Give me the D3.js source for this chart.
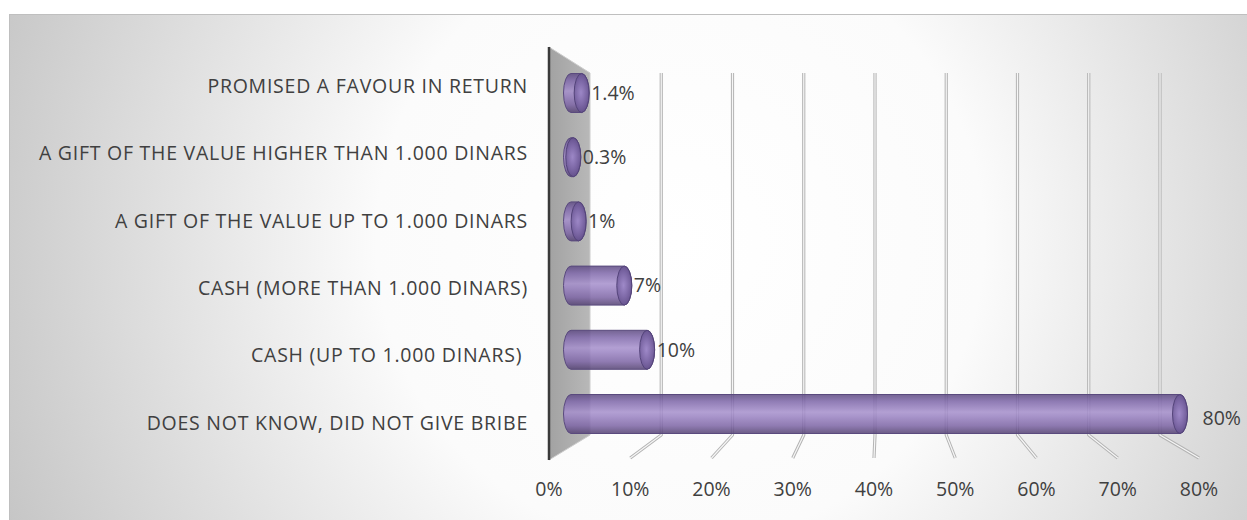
<!DOCTYPE html>
<html>
<head>
<meta charset="utf-8">
<script src="https://cdn.jsdelivr.net/npm/d3@7"></script>
<style>
  body { margin: 0; background: #fff; }
  text { font-family: "Open Sans", Lato, sans-serif; fill: #404040; }
</style>
</head>
<body>
<div id="chart"></div>
<script>
// categories top to bottom, as in the picture
const categories = [
    'PROMISED A FAVOUR IN RETURN',
    'A GIFT OF THE VALUE HIGHER THAN 1.000 DINARS',
    'A GIFT OF THE VALUE UP TO 1.000 DINARS',
    'CASH (MORE THAN 1.000 DINARS)',
    'CASH (UP TO 1.000 DINARS)\u00a0',
    'DOES NOT KNOW, DID NOT GIVE BRIBE'
];
const values = [0.014, 0.003, 0.01, 0.07, 0.10, 0.80];
const valueLabels = ['1.4%', '0.3%', '1%', '7%', '10%', '80%'];
const ticks = [0, 0.1, 0.2, 0.3, 0.4, 0.5, 0.6, 0.7, 0.8];

const width = 1247, height = 520;
const fontSize = 19.5;

const svg = d3.select('#chart').append('svg')
    .attr('width', width)
    .attr('height', height);

const defs = svg.append('defs');

// chart area background
const bg = defs.append('radialGradient')
    .attr('id', 'bg')
    .attr('gradientUnits', 'userSpaceOnUse')
    .attr('cx', 680).attr('cy', 240).attr('r', 760);
bg.append('stop').attr('offset', 0).attr('stop-color', '#ffffff');
bg.append('stop').attr('offset', 0.4).attr('stop-color', '#fbfbfb');
bg.append('stop').attr('offset', 1).attr('stop-color', '#c2c2c2');

const wallGrad = defs.append('linearGradient')
    .attr('id', 'wall').attr('x1', 0).attr('x2', 1).attr('y1', 0).attr('y2', 0);
wallGrad.append('stop').attr('offset', 0).attr('stop-color', '#a2a2a2');
wallGrad.append('stop').attr('offset', 1).attr('stop-color', '#b8b8b8');

const barGrad = defs.append('linearGradient')
    .attr('id', 'bar').attr('x1', 0).attr('x2', 0).attr('y1', 0).attr('y2', 1);
[[0, '#5e4b82'], [0.18, '#7f68aa'], [0.45, '#a690cc'], [0.55, '#9c85c4'],
 [0.8, '#7e66a6'], [1, '#544272']].forEach(([o, c]) =>
    barGrad.append('stop').attr('offset', o).attr('stop-color', c));

const capGrad = defs.append('radialGradient')
    .attr('id', 'cap').attr('cx', 0.45).attr('cy', 0.5).attr('r', 0.6);
capGrad.append('stop').attr('offset', 0).attr('stop-color', '#9a84c6');
capGrad.append('stop').attr('offset', 1).attr('stop-color', '#5c4886');

svg.append('rect')
    .attr('x', 9.5).attr('y', 14.5)
    .attr('width', width).attr('height', height)
    .attr('fill', 'url(#bg)')
    .attr('stroke', '#bfbfbf');

// 3D scales: back wall, front edge and bar depth
const xBack = d3.scaleLinear().domain([0, 0.8]).range([590, 1160]);
const xFront = d3.scaleLinear().domain([0, 0.8]).range([549, 1199]);
const xBar = d3.scaleLinear().domain([0, 0.8]).range([571, 1180]);
const yBar = d3.scalePoint().domain(categories).range([93, 414]);
const yLabel = d3.scalePoint().domain(categories).range([86, 423]);

const backTop = 73, backBottom = 435, frontTop = 47, frontBottom = 460;
const ry = 19.5, rx = 7.5;

// back wall gridlines
const grid = svg.append('g');
ticks.slice(1).forEach(t => {
    const pts = [[xBack(t), backTop], [xBack(t), backBottom], [xFront(t), frontBottom - 2]];
    grid.append('path').attr('d', d3.line()(pts))
        .attr('fill', 'none').attr('stroke', '#b4b4b4').attr('stroke-width', 3.2)
        .attr('stroke-linejoin', 'round');
    grid.append('path').attr('d', d3.line()(pts))
        .attr('fill', 'none').attr('stroke', '#f6f6f6').attr('stroke-width', 1.2)
        .attr('stroke-linejoin', 'round');
});

// side wall
svg.append('path')
    .attr('d', d3.line()([[xFront(0), frontTop], [xBack(0), backTop],
                          [xBack(0), backBottom], [xFront(0), frontBottom]]) + 'Z')
    .attr('fill', 'url(#wall)')
    .attr('stroke', '#cccccc').attr('stroke-width', 1);
svg.append('line')
    .attr('x1', xFront(0)).attr('x2', xFront(0))
    .attr('y1', frontTop).attr('y2', frontBottom)
    .attr('stroke', '#3a3a3a').attr('stroke-width', 2.5);

// cylinders
const bars = svg.append('g').selectAll('g')
    .data(categories.map((c, i) => ({c, v: values[i], label: valueLabels[i]})))
    .join('g');

bars.append('path')
    .attr('d', d => {
        const x0 = xBar(0), x1 = xBar(d.v), cy = yBar(d.c);
        return `M${x0},${cy - ry} L${x1},${cy - ry} A${rx},${ry} 0 0 1 ${x1},${cy + ry}` +
               ` L${x0},${cy + ry} A${rx},${ry} 0 0 1 ${x0},${cy - ry} Z`;
    })
    .attr('fill', 'url(#bar)')
    .attr('fill-opacity', 0.86)
    .attr('stroke', '#5a4a7e')
    .attr('stroke-width', 1);

bars.append('ellipse')
    .attr('cx', d => xBar(d.v))
    .attr('cy', d => yBar(d.c))
    .attr('rx', rx).attr('ry', ry)
    .attr('fill', 'url(#cap)')
    .attr('fill-opacity', 0.8)
    .attr('stroke', '#54447a')
    .attr('stroke-width', 1);

// value labels (the long bar's label sits a bit further out, as in the original)
bars.append('text')
    .attr('x', d => xBar(d.v) + rx + (d.v > 0.5 ? 15 : 2))
    .attr('y', d => yBar(d.c) + (d.v > 0.5 ? 4 : 0))
    .attr('dy', '0.35em')
    .attr('font-size', fontSize)
    .text(d => d.label);

// category labels
svg.append('g').selectAll('text')
    .data(categories)
    .join('text')
    .attr('x', 528)
    .attr('y', d => yLabel(d))
    .attr('dy', '0.35em')
    .attr('text-anchor', 'end')
    .attr('font-size', fontSize)
    .attr('letter-spacing', 0.75)
    .style('white-space', 'pre')
    .text(d => d);

// axis labels
svg.append('g').selectAll('text')
    .data(ticks)
    .join('text')
    .attr('x', d => xFront(d))
    .attr('y', 489)
    .attr('dy', '0.35em')
    .attr('text-anchor', 'middle')
    .attr('font-size', fontSize)
    .text(d => d3.format('.0%')(d));
</script>
</body>
</html>
